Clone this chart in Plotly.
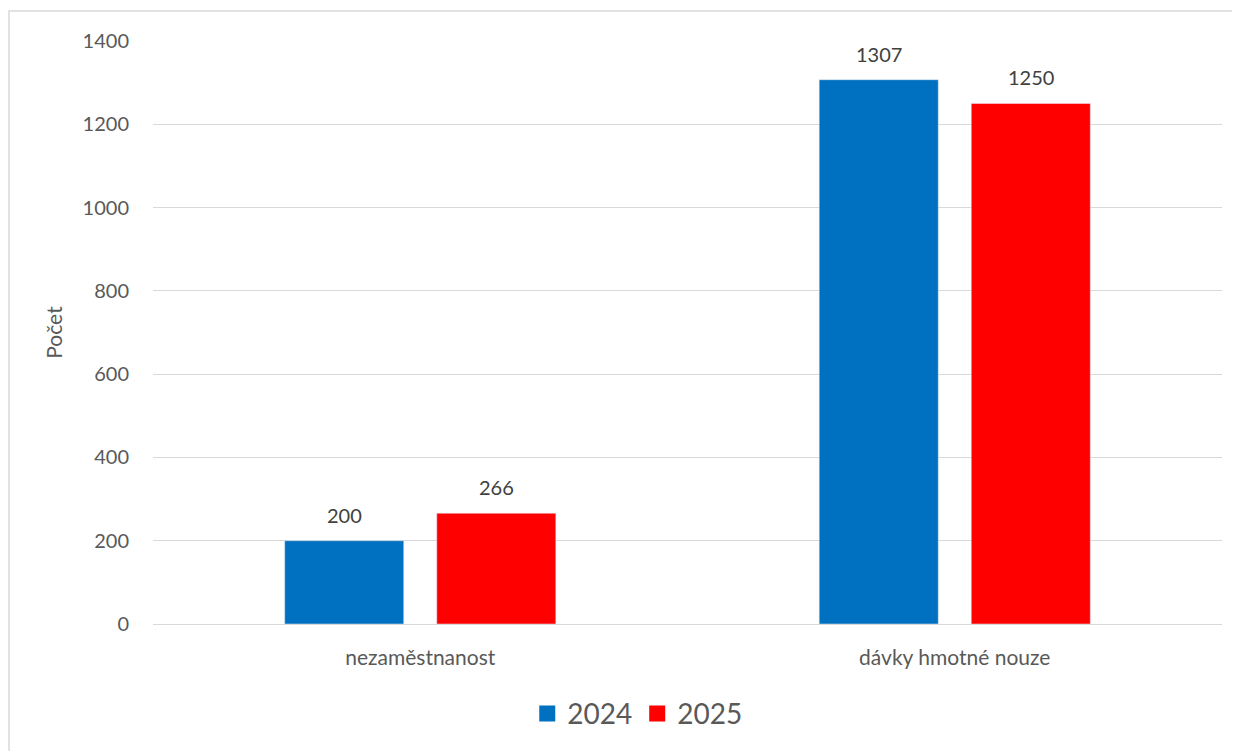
import plotly.graph_objects as go

categories = ["nezaměstnanost", "dávky hmotné nouze"]
series_names = ["2024", "2025"]
values_2024 = [200, 1307]
values_2025 = [266, 1250]
colors = ["#0070C0", "#FF0000"]
y_ticks = [0, 200, 400, 600, 800, 1000, 1200, 1400]

FONT = "Lato, Open Sans, sans-serif"
PLOT_W = 1069
PLOT_H = 585
BAR_SHIFT = 76  # half of the per-series slot within a group, in px

fig = go.Figure()
annotations = []
for i, (name, vals, col) in enumerate(zip(series_names, [values_2024, values_2025], colors)):
    fig.add_trace(go.Bar(
        x=categories, y=vals, name=name, marker_color=col,
        showlegend=False, offsetgroup=str(i),
    ))
    for cat, v in zip(categories, vals):
        annotations.append(dict(
            x=cat, y=v, xref="x", yref="y", text=str(v), showarrow=False,
            xshift=(-1 if i == 0 else 1) * BAR_SHIFT, yshift=12, yanchor="bottom",
            font=dict(size=20, color="#404040", family=FONT),
        ))
# legend entries with larger square swatches
for name, col in zip(series_names, colors):
    fig.add_trace(go.Scatter(
        x=[None], y=[None], mode="markers", name=name,
        marker=dict(symbol="square", size=17, color=col),
        showlegend=True,
    ))

fig.update_layout(
    width=1232, height=743,
    paper_bgcolor="white", plot_bgcolor="white",
    margin=dict(l=145, r=18, t=33, b=125),
    barmode="group", bargap=0.431, bargroupgap=0.217,
    font=dict(family=FONT, color="#595959"),
    showlegend=True,
    legend=dict(orientation="h", x=0.453, xanchor="center", y=-90 / PLOT_H, yanchor="middle",
                font=dict(size=28, color="#595959", family=FONT),
                itemwidth=30, traceorder="normal"),
    xaxis=dict(tickfont=dict(size=21, color="#595959"), showline=True,
               linecolor="#D9D9D9", linewidth=1, ticks="", ticklabelstandoff=15),
    yaxis=dict(range=[0, 1400], tickvals=y_ticks, tickfont=dict(size=20, color="#595959"),
               showgrid=True, gridcolor="#D9D9D9", gridwidth=1, zeroline=False,
               ticks="", ticklabelstandoff=23,
               title=dict(text="Počet", font=dict(size=21, color="#595959"), standoff=14)),
    annotations=annotations,
    shapes=[dict(type="rect", xref="paper", yref="paper", x0=(-145 + 1) / PLOT_W,
                 x1=1.2, y0=-0.5, y1=1 + 30 / PLOT_H,
                 line=dict(color="#D9D9D9", width=1.5), fillcolor="rgba(0,0,0,0)", layer="below")],
)

fig.write_html("out.html")
